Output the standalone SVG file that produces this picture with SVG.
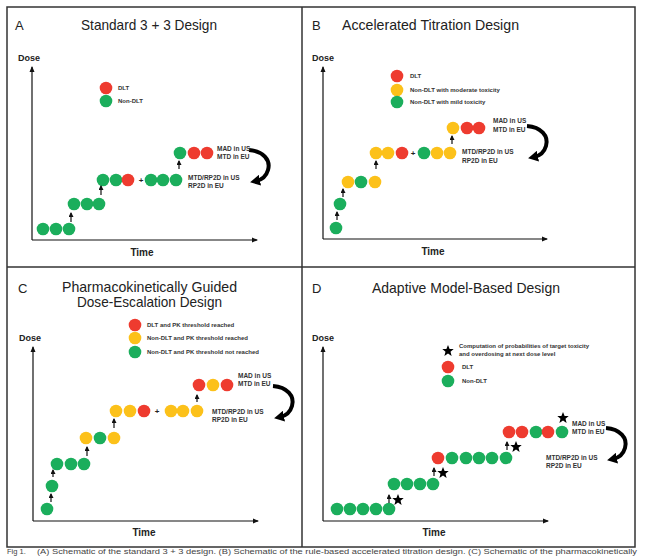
<svg xmlns="http://www.w3.org/2000/svg" width="645" height="556" viewBox="0 0 645 556">
<style>
.frame{fill:none;stroke:#333;stroke-width:1.5}
.title{font-family:"Liberation Sans",Arial,sans-serif;font-size:14.5px;fill:#222}
.letter{font-family:"Liberation Sans",Arial,sans-serif;font-size:13px;fill:#222}
.dose{font-family:"Liberation Sans",Arial,sans-serif;font-size:9px;font-weight:bold;fill:#222}
.time{font-family:"Liberation Sans",Arial,sans-serif;font-size:10px;font-weight:bold;fill:#222;text-anchor:middle}
.lbl{font-family:"Liberation Sans",Arial,sans-serif;font-size:6.5px;font-weight:bold;fill:#333}
.leg{font-family:"Liberation Sans",Arial,sans-serif;font-size:6px;font-weight:bold;fill:#333}
.axis{fill:none;stroke:#111;stroke-width:1.2;marker-end:url(#ax)}
.up{fill:none;stroke:#111;stroke-width:1.2;marker-end:url(#upm)}
.curve{fill:none;stroke:#000;stroke-width:4;marker-end:url(#bh)}
.r{fill:#ee3b2f}.g{fill:#1bae5c}.y{fill:#fcc11a}
.plus{font-family:"Liberation Sans",Arial,sans-serif;font-size:8px;font-weight:bold;fill:#222;text-anchor:middle}
.cap{font-family:"Liberation Sans",Arial,sans-serif;font-size:7.5px;fill:#444}
</style>
<defs>
<marker id="ax" markerWidth="6" markerHeight="6" refX="5" refY="3" orient="auto" markerUnits="userSpaceOnUse"><path d="M0,0.5 L6,3 L0,5.5 z" fill="#111"/></marker>
<marker id="upm" markerWidth="5" markerHeight="5" refX="4" refY="2.5" orient="auto" markerUnits="userSpaceOnUse"><path d="M0,0 L5,2.5 L0,5 z" fill="#111"/></marker>
<marker id="bh" markerWidth="11" markerHeight="11" refX="4" refY="5.5" orient="auto" markerUnits="userSpaceOnUse"><path d="M0,0 L10,5.5 L0,11 z" fill="#000"/></marker>
<path id="bend" d="M0,0 C14,1 22,10 19,20 C17,27 12,30 7,31"/>
<path id="star" d="M0,-6 L1.6,-2 L5.7,-1.9 L2.5,0.8 L3.6,4.9 L0,2.5 L-3.6,4.9 L-2.5,0.8 L-5.7,-1.9 L-1.6,-2 z" fill="#000"/>
</defs>
<rect width="645" height="556" fill="#fff"/>
<g id="frame">
<rect class="frame" x="7" y="7" width="628" height="540"/>
<line class="frame" x1="302" y1="7" x2="302" y2="547"/>
<line class="frame" x1="7" y1="267" x2="635" y2="267"/>
</g>

<!-- Panel A -->
<g id="panelA">
<text class="letter" x="15" y="30">A</text>
<text class="title" x="81" y="30" textLength="136" lengthAdjust="spacingAndGlyphs">Standard 3 + 3 Design</text>
<text class="dose" x="18" y="61">Dose</text>
<text class="time" x="142" y="256">Time</text>
<g id="axesA"><path class="axis" d="M32,240 L32,67"/><path class="axis" d="M32,240 L257,240"/></g>
<g id="legendA">
<circle class="r" cx="106" cy="88" r="6.3"/><text class="leg" x="118" y="90">DLT</text>
<circle class="g" cx="106" cy="101" r="6.3"/><text class="leg" x="118" y="103">Non-DLT</text>
</g>
<g id="dosesA">
<circle class="g" cx="43" cy="229" r="6.3"/><circle class="g" cx="56" cy="229" r="6.3"/><circle class="g" cx="69" cy="229" r="6.3"/>
<circle class="g" cx="74" cy="204" r="6.3"/><circle class="g" cx="87" cy="204" r="6.3"/><circle class="g" cx="99" cy="204" r="6.3"/>
<circle class="g" cx="103" cy="180" r="6.3"/><circle class="g" cx="116" cy="180" r="6.3"/><circle class="r" cx="128" cy="180" r="6.3"/>
<text class="plus" x="141" y="183">+</text>
<circle class="g" cx="151" cy="180" r="6.3"/><circle class="g" cx="163" cy="180" r="6.3"/><circle class="g" cx="176" cy="180" r="6.3"/>
<circle class="g" cx="180" cy="153" r="6.3"/><circle class="r" cx="194" cy="153" r="6.3"/><circle class="r" cx="207" cy="153" r="6.3"/>
</g>
<g id="connectorsA">
<path class="up" d="M71,222 L71,213"/><path class="up" d="M101,195 L101,186"/><path class="up" d="M179,169 L179,161"/>
<use href="#bend" class="curve" transform="translate(249,150)"/>
</g>
<g id="labelsA">
<text class="lbl" x="217" y="151">MAD in US</text><text class="lbl" x="217" y="159">MTD in EU</text>
<text class="lbl" x="188" y="180">MTD/RP2D in US</text><text class="lbl" x="188" y="188">RP2D in EU</text>
</g>
</g>

<!-- Panel B -->
<g id="panelB">
<text class="letter" x="312" y="30">B</text>
<text class="title" x="342" y="30" textLength="177" lengthAdjust="spacingAndGlyphs">Accelerated Titration Design</text>
<text class="dose" x="312" y="61">Dose</text>
<text class="time" x="433" y="255">Time</text>
<g id="axesB"><path class="axis" d="M323,239 L323,67"/><path class="axis" d="M323,239 L547,239"/></g>
<g id="legendB">
<circle class="r" cx="397" cy="76" r="6.3"/><text class="leg" x="410" y="78">DLT</text>
<circle class="y" cx="397" cy="90" r="6.3"/><text class="leg" x="410" y="92">Non-DLT with moderate toxicity</text>
<circle class="g" cx="397" cy="102" r="6.3"/><text class="leg" x="410" y="104">Non-DLT with mild toxicity</text>
</g>
<g id="dosesB">
<circle class="g" cx="336" cy="228" r="6.3"/>
<circle class="g" cx="340" cy="204" r="6.3"/>
<circle class="y" cx="348" cy="182" r="6.3"/><circle class="g" cx="361" cy="182" r="6.3"/><circle class="y" cx="375" cy="182" r="6.3"/>
<circle class="y" cx="376" cy="153" r="6.3"/><circle class="y" cx="388" cy="153" r="6.3"/><circle class="r" cx="402" cy="153" r="6.3"/>
<text class="plus" x="413" y="156">+</text>
<circle class="g" cx="424" cy="153" r="6.3"/><circle class="y" cx="437" cy="153" r="6.3"/><circle class="y" cx="450" cy="153" r="6.3"/>
<circle class="y" cx="453" cy="128" r="6.3"/><circle class="r" cx="467" cy="128" r="6.3"/><circle class="r" cx="479" cy="128" r="6.3"/>
</g>
<g id="connectorsB">
<path class="up" d="M337,220 L337,212"/><path class="up" d="M343,197 L343,189"/><path class="up" d="M376,169 L376,161"/><path class="up" d="M452,144 L452,136"/>
<use href="#bend" class="curve" transform="translate(527,126)"/>
</g>
<g id="labelsB">
<text class="lbl" x="493" y="123">MAD in US</text><text class="lbl" x="493" y="132">MTD in EU</text>
<text class="lbl" x="462" y="154">MTD/RP2D in US</text><text class="lbl" x="462" y="163">RP2D in EU</text>
</g>
</g>

<!-- Panel C -->
<g id="panelC">
<text class="letter" x="18" y="293">C</text>
<text class="title" x="62" y="292" textLength="175" lengthAdjust="spacingAndGlyphs">Pharmacokinetically Guided</text>
<text class="title" x="77" y="307" textLength="145" lengthAdjust="spacingAndGlyphs">Dose-Escalation Design</text>
<text class="dose" x="19" y="341">Dose</text>
<text class="time" x="144" y="536">Time</text>
<g id="axesC"><path class="axis" d="M33,521 L33,347"/><path class="axis" d="M33,521 L258,521"/></g>
<g id="legendC">
<circle class="r" cx="135" cy="325" r="6.3"/><text class="leg" x="147" y="327">DLT and PK threshold reached</text>
<circle class="y" cx="135" cy="338" r="6.3"/><text class="leg" x="147" y="340">Non-DLT and PK threshold reached</text>
<circle class="g" cx="135" cy="352" r="6.3"/><text class="leg" x="147" y="354">Non-DLT and PK threshold not reached</text>
</g>
<g id="dosesC">
<circle class="g" cx="47" cy="509" r="6.3"/>
<circle class="g" cx="52" cy="486" r="6.3"/>
<circle class="g" cx="57" cy="464" r="6.3"/><circle class="g" cx="71" cy="464" r="6.3"/><circle class="g" cx="84" cy="464" r="6.3"/>
<circle class="y" cx="86" cy="438" r="6.3"/><circle class="g" cx="100" cy="438" r="6.3"/><circle class="y" cx="114" cy="438" r="6.3"/>
<circle class="y" cx="116" cy="411" r="6.3"/><circle class="y" cx="130" cy="411" r="6.3"/><circle class="r" cx="144" cy="411" r="6.3"/>
<text class="plus" x="157" y="414">+</text>
<circle class="y" cx="171" cy="411" r="6.3"/><circle class="y" cx="183" cy="411" r="6.3"/><circle class="y" cx="197" cy="411" r="6.3"/>
<circle class="r" cx="199" cy="385" r="6.3"/><circle class="y" cx="213" cy="385" r="6.3"/><circle class="r" cx="227" cy="385" r="6.3"/>
</g>
<g id="connectorsC">
<path class="up" d="M51,502 L51,494"/><path class="up" d="M53,477 L53,470"/><path class="up" d="M87,456 L87,447"/><path class="up" d="M114,428 L114,419"/><path class="up" d="M197,402 L197,395"/>
<use href="#bend" class="curve" transform="translate(273,386)"/>
</g>
<g id="labelsC">
<text class="lbl" x="238" y="378">MAD in US</text><text class="lbl" x="238" y="386">MTD in EU</text>
<text class="lbl" x="212" y="414">MTD/RP2D in US</text><text class="lbl" x="212" y="422">RP2D in EU</text>
</g>
</g>

<!-- Panel D -->
<g id="panelD">
<text class="letter" x="312" y="293">D</text>
<text class="title" x="372" y="293" textLength="188" lengthAdjust="spacingAndGlyphs">Adaptive Model-Based Design</text>
<text class="dose" x="312" y="341">Dose</text>
<text class="time" x="434" y="536">Time</text>
<g id="axesD"><path class="axis" d="M323,521 L323,347"/><path class="axis" d="M323,521 L548,521"/></g>
<g id="legendD">
<use href="#star" transform="translate(448,351)"/>
<text class="leg" x="459" y="348" font-size="5.8">Computation of probabilities of target toxicity</text>
<text class="leg" x="459" y="356" font-size="5.8">and overdosing at next dose level</text>
<circle class="r" cx="448" cy="367" r="6.3"/><text class="leg" x="462" y="369">DLT</text>
<circle class="g" cx="448" cy="381" r="6.3"/><text class="leg" x="462" y="383">Non-DLT</text>
</g>
<g id="dosesD">
<circle class="g" cx="337" cy="509" r="6.3"/><circle class="g" cx="350" cy="509" r="6.3"/><circle class="g" cx="363" cy="509" r="6.3"/><circle class="g" cx="376" cy="509" r="6.3"/><circle class="g" cx="389" cy="509" r="6.3"/>
<circle class="g" cx="394" cy="484" r="6.3"/><circle class="g" cx="407" cy="484" r="6.3"/><circle class="g" cx="420" cy="484" r="6.3"/><circle class="g" cx="433" cy="484" r="6.3"/>
<circle class="r" cx="438" cy="458" r="6.3"/><circle class="g" cx="452" cy="458" r="6.3"/><circle class="g" cx="466" cy="458" r="6.3"/><circle class="g" cx="479" cy="458" r="6.3"/><circle class="g" cx="492" cy="458" r="6.3"/><circle class="g" cx="506" cy="458" r="6.3"/>
<circle class="r" cx="509" cy="432" r="6.3"/><circle class="r" cx="522" cy="432" r="6.3"/><circle class="g" cx="536" cy="432" r="6.3"/><circle class="r" cx="548" cy="432" r="6.3"/><circle class="g" cx="562" cy="432" r="6.3"/>
</g>
<g id="starsD">
<use href="#star" transform="translate(398,500)"/>
<use href="#star" transform="translate(443,473)"/>
<use href="#star" transform="translate(516,447)"/>
<use href="#star" transform="translate(563,418)"/>
</g>
<g id="connectorsD">
<path class="up" d="M389,503 L389,495"/><path class="up" d="M434,476 L434,468"/><path class="up" d="M507,450 L507,442"/>
<use href="#bend" class="curve" transform="translate(606,428)"/>
</g>
<g id="labelsD">
<text class="lbl" x="572" y="426">MAD in US</text><text class="lbl" x="572" y="434">MTD in EU</text>
<text class="lbl" x="546" y="460">MTD/RP2D in US</text><text class="lbl" x="546" y="468">RP2D in EU</text>
</g>
</g>

<g id="caption">
<text class="cap" x="7" y="554">Fig 1.</text>
<text class="cap" x="37" y="554" textLength="600" lengthAdjust="spacingAndGlyphs">(A) Schematic of the standard 3 + 3 design. (B) Schematic of the rule-based accelerated titration design. (C) Schematic of the pharmacokinetically</text>
</g>
</svg>
